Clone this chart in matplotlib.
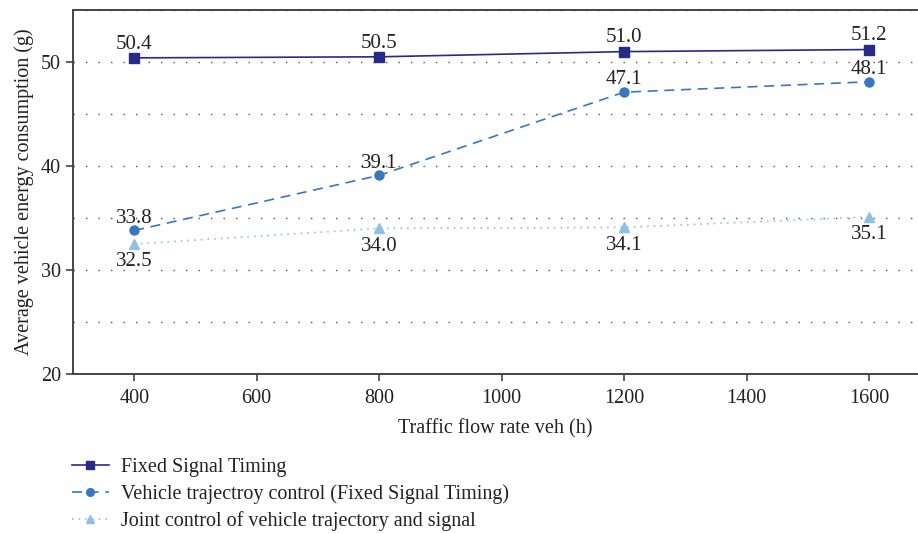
import numpy as np
import matplotlib.pyplot as plt
from matplotlib.ticker import MultipleLocator

plt.rcParams['font.family'] = ['Liberation Serif', 'DejaVu Serif']

flow = [400, 800, 1200, 1600]
fixed = [50.4, 50.5, 51.0, 51.2]
traj = [33.8, 39.1, 47.1, 48.1]
joint = [32.5, 34.0, 34.1, 35.1]

names = ["Fixed Signal Timing",
         "Vehicle trajectroy control (Fixed Signal Timing)",
         "Joint control of vehicle trajectory and signal"]

c1 = "#272b87"
c2 = "#3a76c0"
c3 = "#8fc0e2"
tc = '#222222'

fig = plt.figure(figsize=(9.18, 5.33), dpi=100)
ax = fig.add_axes([0.0795, 0.2983, 0.9205, 0.6829])

ax.plot(flow, fixed, color=c1, lw=1.2, marker='s', ms=7, label=names[0])
ax.plot(flow, traj, color=c2, lw=1.2, ls=(0, (6, 4)), marker='o', ms=6.5, label=names[1])
ax.plot(flow, joint, color=c3, lw=1.2, ls=(0, (1, 3)), marker='^', ms=7, label=names[2])

for x, y in zip(flow, fixed):
    ax.annotate(f"{y:.1f}", (x, y), xytext=(0, 3), textcoords='offset points',
                ha='center', va='bottom', fontsize=15, color=tc)
for x, y in zip(flow, traj):
    ax.annotate(f"{y:.1f}", (x, y), xytext=(0, 2), textcoords='offset points',
                ha='center', va='bottom', fontsize=15, color=tc)
for x, y in zip(flow, joint):
    ax.annotate(f"{y:.1f}", (x, y), xytext=(0, -6), textcoords='offset points',
                ha='center', va='top', fontsize=15, color=tc)

ax.set_xlim(300, 1680)
ax.set_ylim(20, 55)
ax.set_xticks([400, 600, 800, 1000, 1200, 1400, 1600])
ax.set_yticks([20, 30, 40, 50])
ax.yaxis.set_minor_locator(MultipleLocator(5))
ax.tick_params(axis='y', which='minor', length=0)
ax.tick_params(which='major', direction='out', length=5, width=1.2, colors='#444444',
               labelsize=14.5, labelcolor=tc)
ax.tick_params(axis='x', pad=6)
ax.grid(axis='y', which='both', ls=(0, (1, 8)), color='#555555', lw=1.0)
ax.set_axisbelow(True)

for s in ['left', 'bottom', 'top']:
    ax.spines[s].set_color('#444444')
    ax.spines[s].set_linewidth(1.4)
ax.spines['right'].set_visible(False)

ax.set_xlabel("Traffic flow rate veh (h)", fontsize=14.5, color=tc, labelpad=8)
ax.set_ylabel("Average vehicle energy consumption (g)", fontsize=14.5, color=tc, labelpad=5)

h, l = ax.get_legend_handles_labels()
fig.legend(h, l, loc='lower left', bbox_to_anchor=(0.059, -0.03), frameon=False,
           fontsize=14.5, handlelength=1.8, handletextpad=0.6, labelspacing=0.36,
           labelcolor=tc, markerscale=0.85)

fig.savefig("out.png", dpi=100)
